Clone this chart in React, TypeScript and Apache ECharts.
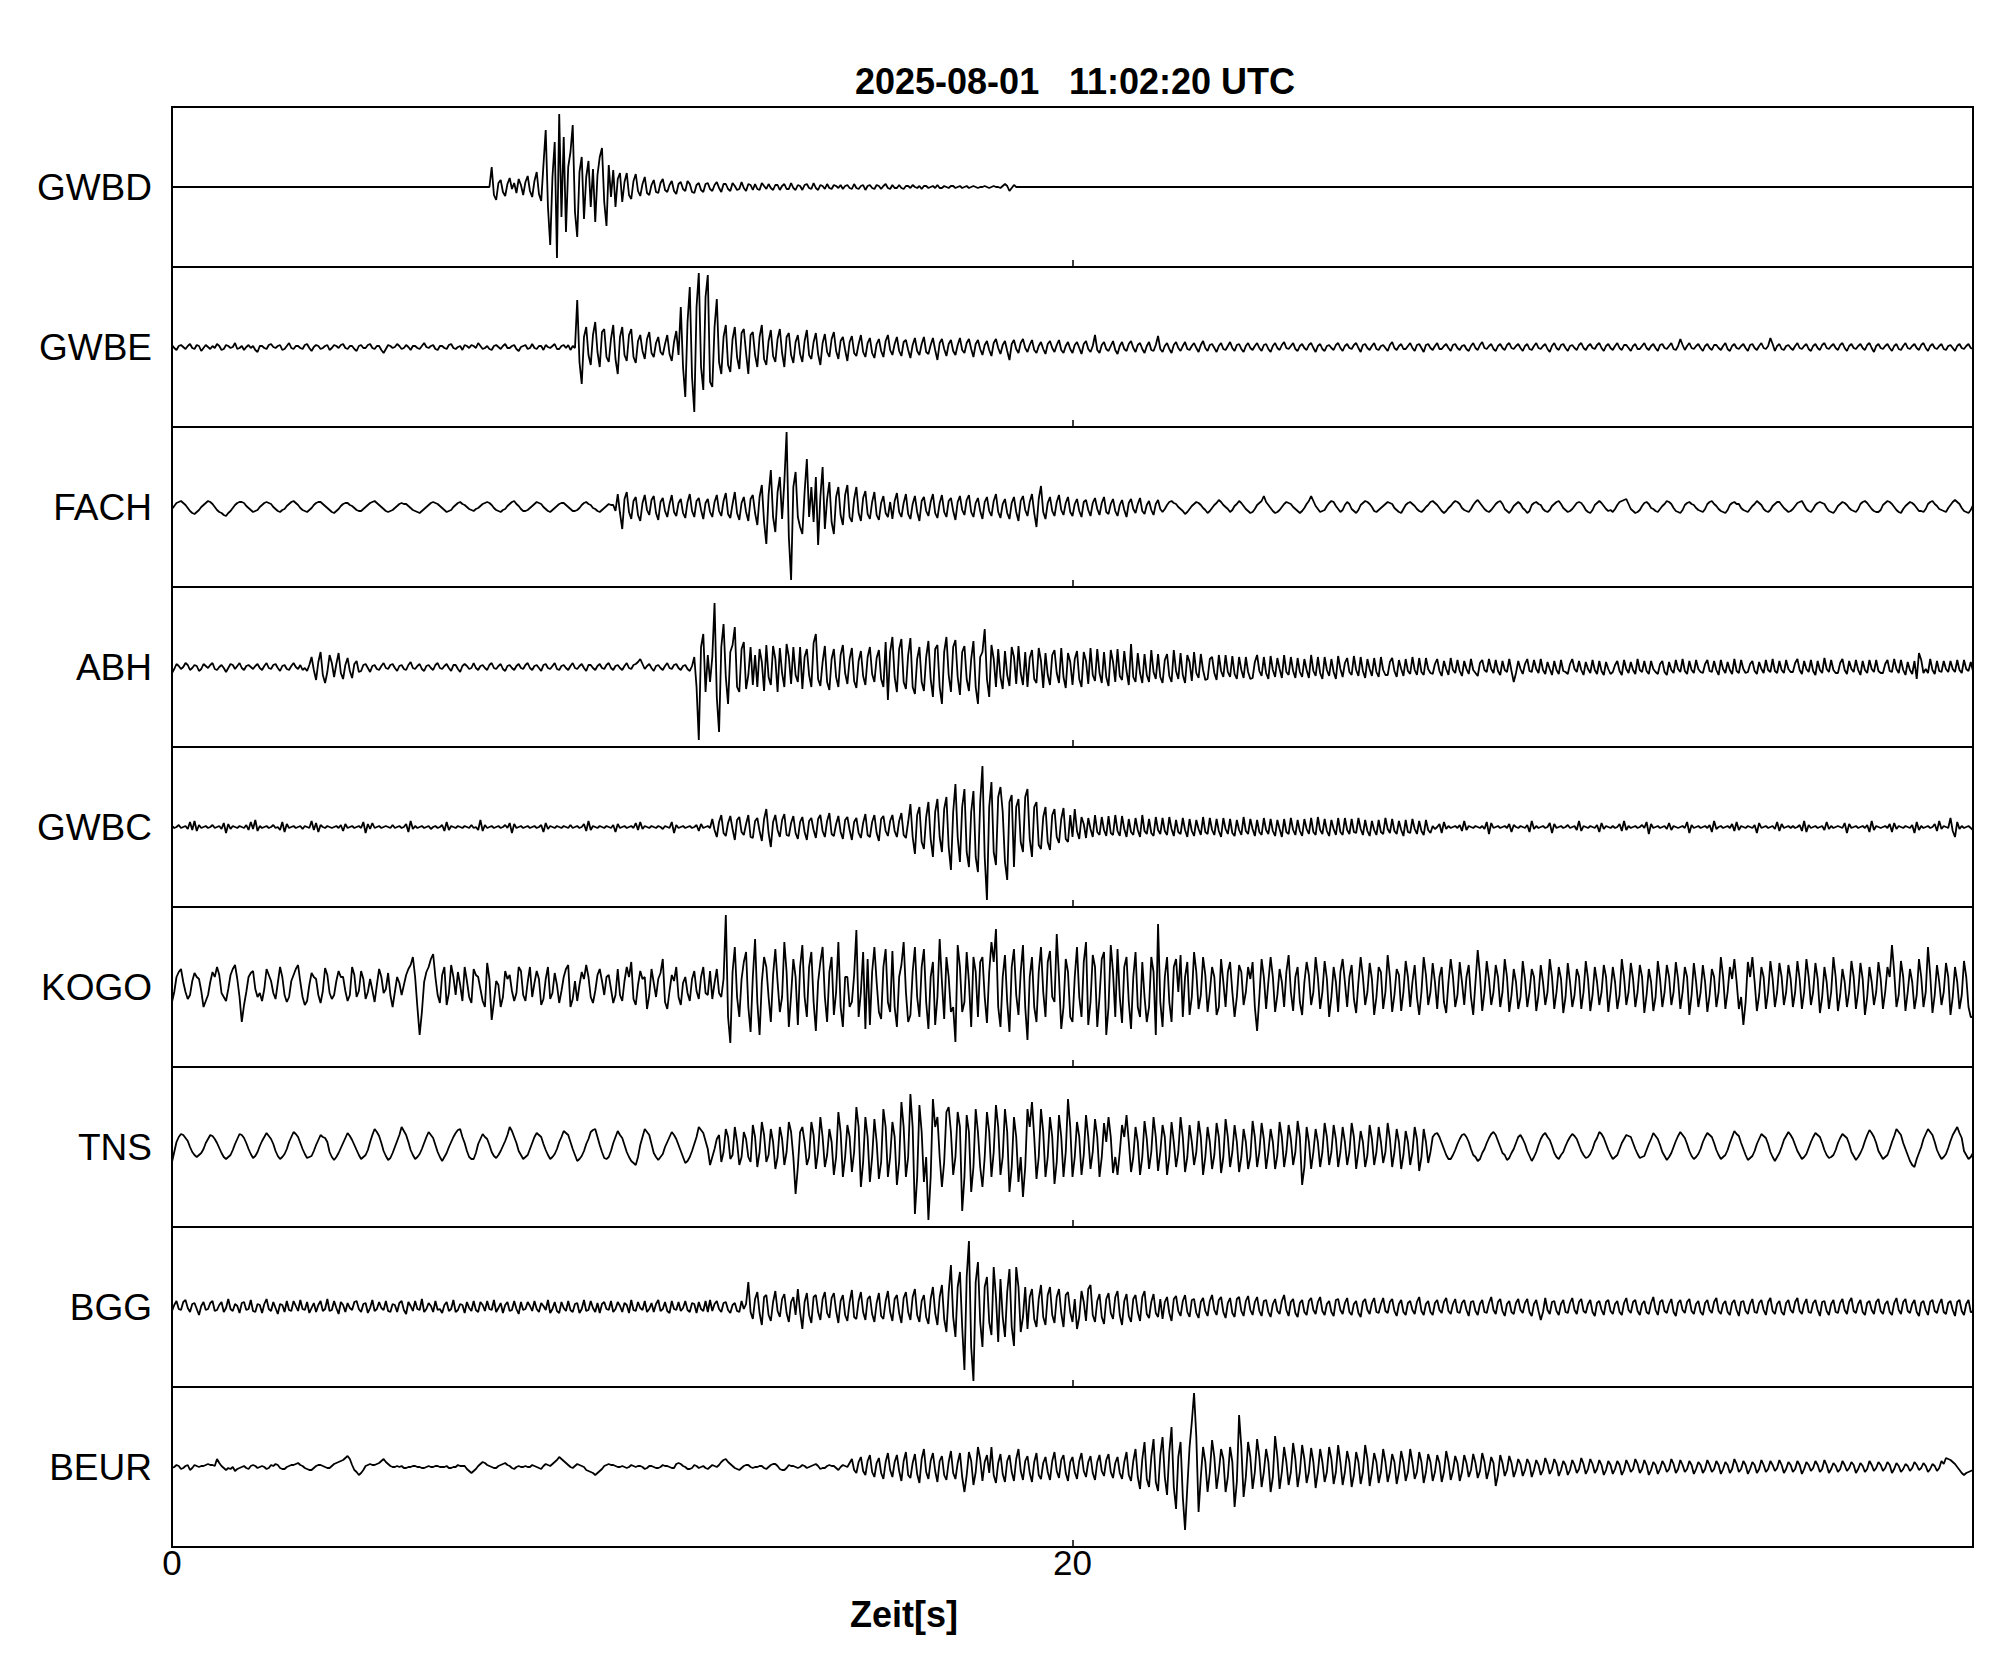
import React, { useEffect, useRef } from "react";
import * as echarts from "echarts";

const TITLE_DATE = "2025-08-01";
const TITLE_TIME = "11:02:20 UTC";
const X_NAME = "Zeit[s]";
const STATIONS = ["GWBD", "GWBE", "FACH", "ABH", "GWBC", "KOGO", "TNS", "BGG", "BEUR"];
const X_MIN = 0;
const X_MAX = 40;
const X_TICK_LABELS = [0, 20];
const SAMPLE_STEP = 0.05; // seconds between samples
const AMP_RANGE = 80; // half-height of one trace panel, in trace units

// one row = 2 s (40 samples)
const GWBD = [
  0,0,0,0,0,0,0,0,0,0, 0,0,0,0,0,0,0,0,0,0, 0,0,0,0,0,0,0,0,0,0, 0,0,0,0,0,0,0,0,0,0,
  0,0,0,0,0,0,0,0,0,0, 0,0,0,0,0,0,0,0,0,0, 0,0,0,0,0,0,0,0,0,0, 0,0,0,0,0,0,0,0,0,0,
  0,0,0,0,0,0,0,0,0,0, 0,0,0,0,0,0,0,0,0,0, 0,0,0,0,0,0,0,0,0,0, 0,0,0,0,0,0,0,0,0,0,
  0,0,0,0,0,0,0,0,0,0, 0,0,0,0,0,0,0,0,0,0, 0,0,20,-8,-13,4,7,-5,-9,3, 9,-2,4,-6,8,2,-8,5,11,-4,
  -10,6,15,-7,-14,22,57,-20,-58,10, 45,-71,73,-30,50,-45,20,35,62,-25, -50,15,30,-32,10,26,-20,18,-35,12, 30,39,-15,-39,22,-10,17,-20,8,14,
  -15,5,14,-8,-12,6,13,-4,-9,3, 10,-6,-8,2,7,-5,-6,4,8,-3, -5,2,6,-4,-7,3,5,-2,-4,6, 3,-5,-6,2,4,-3,-5,3,4,-2,
  -4,2,5,-1,-5,3,3,-2,-4,4, 1,-3,-2,5,-1,-4,3,2,-3,3, -2,-3,4,1,-2,3,-1,-3,2,2, -3,1,3,-2,-2,4,-1,-3,2,1,
  -3,2,3,-1,-2,4,-1,-3,2,1, -2,3,-1,-2,2,1,-1,2,-2,1, 2,-1,-2,3,-1,-2,1,2,-3,1, 2,-1,-2,2,1,-2,1,3,-1,-2,
  2,-1,-1,2,-1,-2,1,1,-1,2, 0,-1,1,-2,1,1,-1,0,1,-1, 2,-1,-1,1,0,-1,1,1,-1,0, 1,-1,0,1,-1,0,1,0,-1,0,
  0,1,0,-1,0,1,0,0,-1,1, 3,1,-4,-1,2,0,0,0,0,0, 0,0,0,0,0,0,0,0,0,0, 0,0,0,0,0,0,0,0,0,0,
  0,0,0,0,0,0,0,0,0,0, 0,0,0,0,0,0,0,0,0,0, 0,0,0,0,0,0,0,0,0,0, 0,0,0,0,0,0,0,0,0,0,
  0,0,0,0,0,0,0,0,0,0, 0,0,0,0,0,0,0,0,0,0, 0,0,0,0,0,0,0,0,0,0, 0,0,0,0,0,0,0,0,0,0,
  0,0,0,0,0,0,0,0,0,0, 0,0,0,0,0,0,0,0,0,0, 0,0,0,0,0,0,0,0,0,0, 0,0,0,0,0,0,0,0,0,0,
  0,0,0,0,0,0,0,0,0,0, 0,0,0,0,0,0,0,0,0,0, 0,0,0,0,0,0,0,0,0,0, 0,0,0,0,0,0,0,0,0,0,
  0,0,0,0,0,0,0,0,0,0, 0,0,0,0,0,0,0,0,0,0, 0,0,0,0,0,0,0,0,0,0, 0,0,0,0,0,0,0,0,0,0,
  0,0,0,0,0,0,0,0,0,0, 0,0,0,0,0,0,0,0,0,0, 0,0,0,0,0,0,0,0,0,0, 0,0,0,0,0,0,0,0,0,0,
  0,0,0,0,0,0,0,0,0,0, 0,0,0,0,0,0,0,0,0,0, 0,0,0,0,0,0,0,0,0,0, 0,0,0,0,0,0,0,0,0,0,
  0,0,0,0,0,0,0,0,0,0, 0,0,0,0,0,0,0,0,0,0, 0,0,0,0,0,0,0,0,0,0, 0,0,0,0,0,0,0,0,0,0,
  0,0,0,0,0,0,0,0,0,0, 0,0,0,0,0,0,0,0,0,0, 0,0,0,0,0,0,0,0,0,0, 0,0,0,0,0,0,0,0,0,0,
  0,0,0,0,0,0,0,0,0,0, 0,0,0,0,0,0,0,0,0,0, 0,0,0,0,0,0,0,0,0,0, 0,0,0,0,0,0,0,0,0,0,
  0,
];

const GWBE = [
  2,-1,-3,1,2,0,-2,1,3,-1, -2,2,1,-4,-1,2,0,-2,1,-1, 3,1,-3,-2,2,1,-1,0,4,-2, -1,1,-3,0,2,-1,1,-3,-5,1,
  1,-1,-2,2,3,0,-1,1,2,-3, -2,1,4,-1,-2,1,1,-1,-2,2, 3,-1,-4,0,2,1,-2,-1,1,2, -3,-1,2,1,-1,2,3,-1,-2,1,
  1,-2,-4,1,2,-1,-1,2,3,-1, -2,1,1,-3,-6,-2,2,1,-1,0, 3,1,-2,-1,2,0,-3,1,1,-1, -2,1,4,0,-1,1,2,-2,-3,1,
  1,-1,-2,2,3,-1,-2,0,1,-3, 2,1,-1,2,1,-1,4,1,-2,-1, 1,-2,-3,1,2,0,-2,1,3,-1, -1,1,2,-2,-4,0,1,2,-2,-1,
  3,-1,-2,1,1,-3,2,0,-1,1, 3,-2,-2,1,2,-1,2,-3,1,-1, 47,-15,-37,10,20,-8,-18,12,25,-5, -20,15,18,-10,-15,8,22,-12,-27,10,
  20,-8,-14,12,18,-10,-16,6,12,-4, -12,8,15,-6,-10,4,10,-5,-8,3, 12,-7,-14,5,16,-8,40,-20,-50,25, 60,-30,-65,40,74,-20,-43,50,72,-35,
  -40,20,48,-15,-27,10,22,-18,-25,8, 20,-10,-22,14,18,-6,-27,12,15,-8, -20,10,22,-12,-18,6,17,-9,-15,8, 18,-6,-20,10,14,-8,-16,5,12,-7,
  -15,6,17,-8,-12,5,14,-7,-18,4, 13,-5,-10,8,15,-4,-12,6,10,-3, -14,5,11,-6,-9,3,12,-5,-10,4, 9,-6,-11,3,8,-4,-10,6,12,-3,
  -8,3,10,-4,-9,5,7,-3,-11,2, 9,-4,-8,3,10,-5,-7,2,9,-3, -13,4,8,-2,-9,3,7,-4,-8,2, 9,-3,-6,4,8,-2,-10,3,7,-2,
  -8,2,6,-3,-9,4,8,-1,-7,2, 6,-4,-13,3,7,-2,-6,4,8,-1, -5,2,7,-3,-6,1,5,-2,-7,3, 6,-1,-5,2,7,-3,-6,1,5,-2,
  -6,2,5,-1,-7,3,6,-2,-5,1, 12,-3,-6,2,5,-2,-4,1,6,-3, -7,1,5,-2,-4,3,6,-1,-5,2, 4,-2,-6,1,5,-3,-4,2,11,-2,
  -5,1,4,-2,-6,2,5,-1,-4,1, 5,-2,-3,1,4,-1,-5,2,6,-1, -4,2,3,-1,-5,1,4,-2,-3,1, 5,-1,-4,2,3,-2,-5,1,4,-1,
  -3,1,4,-1,-4,2,3,-2,-5,1, 4,-1,-3,2,5,-1,-2,1,4,-2, -4,1,3,-1,-3,2,4,-1,-5,1, 3,-2,-4,1,2,-1,-3,2,4,-1,
  -4,1,3,-1,-2,2,4,-1,-5,2, 3,-1,-3,1,4,-2,-3,1,2,-1, -4,2,5,-1,-3,1,3,-2,-2,1, 4,-1,-4,2,3,-1,-5,2,3,-1,
  -3,1,4,-2,-2,1,3,-1,-4,2, 3,-1,-3,1,2,-2,-4,1,4,-1, -3,2,5,-1,-2,1,3,-2,-4,1, 3,-1,-3,2,4,-1,-2,1,3,-1,
  -4,1,3,-2,-3,1,4,-1,-2,1, 3,-2,-5,1,4,-1,-3,2,3,-1, -4,1,2,-1,-3,2,4,-1,-3,1, 3,-1,-2,2,4,-1,-4,1,3,-1,
  -3,1,4,-1,-3,2,2,-1,-4,1, 3,-2,-2,1,4,-1,-3,1,3,-1, -4,2,3,-1,-2,1,4,-2,-3,1, 8,2,-3,1,4,-1,-2,1,3,-1,
  -4,1,3,-1,-3,2,2,-1,-3,1, 4,-2,-4,1,3,-1,-2,1,3,-1, -4,2,3,-1,-3,1,4,-1,-2,1, 9,3,-4,1,3,-2,-3,1,2,-1,
  -3,1,4,-1,-2,1,3,-2,-4,1, 3,-1,-3,2,4,-1,-2,1,3,-1, -3,2,4,-1,-4,1,3,-1,-2,1, 3,-1,-3,2,4,-1,-5,1,3,-1,
  -2,1,3,-1,-4,1,3,-2,-3,1, 4,-1,-2,1,3,-1,-3,2,4,-1, -4,1,3,-1,-2,1,3,-2,-3,1, 2,-1,-4,1,3,-1,-2,1,3,-1,
  -2,
];

const FACH = [
  -2,1,4,5,6,4,2,-1,-4,-6, -7,-5,-3,0,2,4,6,5,3,0, -3,-5,-6,-8,-9,-6,-4,-1,2,4, 5,5,4,1,-1,-3,-5,-4,-3,0,
  2,4,5,4,3,0,-2,-4,-5,-3, -2,1,3,5,6,4,2,-1,-3,-4, -5,-3,-1,2,4,5,5,3,1,-1, -3,-5,-6,-4,-2,1,3,4,4,2,
  1,-1,-3,-4,-4,-2,0,2,4,5, 6,4,2,0,-2,-4,-5,-4,-3,-1, 1,3,4,3,3,1,-1,-3,-4,-5, -6,-4,-2,0,2,4,5,4,3,1,
  -1,-3,-5,-4,-3,0,2,4,5,3, 2,0,-2,-3,-4,-2,-1,1,3,4, 5,4,2,-1,-3,-4,-5,-3,-2,1, 3,5,6,3,1,-2,-4,-4,-3,-1,
  1,3,5,4,3,0,-2,-4,-5,-3, -1,1,3,4,4,2,0,-2,-4,-4, -3,-1,2,4,5,3,2,-1,-2,-4, -5,-3,-1,1,3,2,2,-4,13,-6,
  -22,8,15,-5,-12,6,10,-8,-14,4, 12,-3,-8,7,11,-6,-13,5,9,-4, -10,3,12,-5,-9,4,8,-6,-11,5, 13,-4,-10,6,9,-3,-12,4,8,-5,
  -10,5,12,-4,-9,6,14,-7,-11,3, 15,-6,-13,4,10,-5,-14,8,12,-6, -18,10,22,-15,-37,12,37,-10,-25,15, 30,-12,25,75,-30,-73,20,35,-10,-20,
  -27,15,48,-10,20,-15,30,-38,10,40, -22,8,25,-15,-27,10,20,-8,-18,12, 22,-10,-15,8,20,-6,-14,9,16,-7, -12,5,15,-8,-13,4,11,-6,-10,5,
  -12,6,14,-5,-10,4,13,-7,-12,3, 11,-5,-14,6,10,-4,-9,5,13,-6, -11,4,12,-5,-10,6,9,-4,-13,5, 11,-3,-8,7,12,-5,-10,4,9,-4,
  -12,5,10,-4,-9,6,13,-5,-11,3, 8,-6,-12,4,10,-5,-14,6,11,-3, -9,5,13,-6,-20,8,21,-5,-12,4, 10,-4,-9,5,12,-3,-8,4,10,-5,
  -9,3,8,-4,-10,5,7,-3,-9,4, 9,-2,-8,4,10,-5,-7,3,8,-4, -9,2,7,-3,-10,4,8,-2,-6,3, 9,-4,-7,2,6,-3,-8,3,7,-2,
  -5,-2,2,5,6,4,3,0,-2,-4, -7,-5,-2,1,3,5,4,2,-1,-3, -6,-4,-1,2,4,7,5,2,0,-2, -5,-3,1,3,6,4,1,-2,-4,-6,
  -5,-2,2,4,6,11,5,2,-1,-4, -6,-5,-3,0,3,5,4,3,0,-2, -4,-6,-4,-1,3,6,11,6,1,-2, -5,-4,-3,1,4,6,5,1,-2,-5,
  -3,2,5,3,-2,-4,-6,-3,2,4, 6,5,3,0,-4,-5,-3,-1,1,3, 5,4,3,-1,-3,-5,-6,-2,2,4, 5,3,1,-2,-4,-5,-3,0,2,5,
  6,4,2,-1,-4,-6,-4,-1,1,4, 6,5,3,-1,-3,-4,-5,-2,2,5, 7,4,1,-2,-4,-5,-3,0,3,5, 6,3,-2,-4,-6,-3,1,3,5,3,
  -1,-3,-6,-4,2,4,5,3,2,-2, -4,-5,-3,1,3,5,6,3,-1,-3, -5,-4,-2,1,4,5,4,1,-3,-5, -6,-3,2,4,6,4,1,-2,-4,-3,
  -5,-2,2,5,6,7,8,3,-2,-4, -6,-5,-3,1,4,5,3,-1,-2,-4, -5,-2,1,3,6,5,3,-1,-4,-5, -6,-3,2,4,5,3,2,-1,-3,-4,
  -5,-2,3,5,6,3,1,-2,-4,-5, -6,-3,2,4,5,3,3,-1,-3,-4, -5,-2,1,3,6,4,2,-2,-4,-5, -3,1,3,5,5,2,-1,-3,-5,-4,
  -2,1,4,5,6,2,-2,-4,-5,-2, 2,4,5,4,3,-1,-4,-5,-6,-3, 1,3,5,4,2,-1,-3,-4,-5,-2, 3,5,6,4,1,-2,-4,-5,-5,-3,
  2,4,6,5,3,0,-3,-5,-6,-2, 1,3,5,4,2,-1,-4,-4,-5,-2, 3,5,6,3,1,-2,-3,-4,-5,-1, 2,5,7,5,3,-1,-4,-5,-6,-3,
  2,
];

const ABH = [
  -6,-2,3,1,-2,0,4,2,-3,-1, 2,1,-4,-2,3,1,-1,2,4,-2, -3,0,2,-1,-5,-1,3,2,-2,1, 4,-1,-3,1,2,0,-2,1,3,-1,
  -3,1,4,-1,-2,2,3,-1,-4,1, 2,-2,-3,1,4,0,-2,2,-3,-1, -4,2,10,-3,-13,5,15,-8,-16,-5, 12,4,-10,3,14,-6,-12,2,9,-4,
  -11,3,6,-5,-4,2,3,-1,-5,1, 2,-2,-3,1,4,-1,-2,2,3,-1, -4,1,2,-2,-3,2,5,-1,-2,1, 3,-2,-4,1,2,-1,-3,2,4,-1,
  -2,1,3,-1,-4,2,2,-2,-5,1, 3,1,-2,-1,4,-1,-3,1,2,-1, -3,2,4,-1,-2,1,3,-2,-4,1, 2,-1,-3,1,3,-1,-2,2,4,-1,
  -3,1,2,-1,-4,2,3,-1,-2,1, 4,-2,-3,1,2,-1,-3,1,4,-1, -2,1,3,-1,-4,2,2,-1,-3,1, 3,-1,-2,2,4,-1,-3,1,2,-1,
  -3,1,4,-1,-2,2,3,5,8,3, -2,1,3,-1,-4,1,2,-1,-3,1, 4,-1,-2,2,3,-1,-3,1,2,-2, -4,1,10,-20,-73,20,33,-25,12,-15,
  10,64,-30,-65,20,43,-10,-37,15,22, 40,-20,-25,18,25,-22,-8,20,-18,12, -20,18,5,-24,22,-10,-18,21,8,-25, 19,-6,-20,23,10,-17,20,-8,-15,20,
  -22,10,18,-8,-20,24,33,-12,-19,5, 21,-15,-23,8,18,-10,-20,12,22,-6, -17,8,19,-14,-21,6,16,-9,-18,10, 20,-7,-15,9,17,-12,-20,25,-33,15,
  30,-10,-25,18,28,-15,-22,12,29,-20, -27,8,20,-15,-24,10,26,-12,-30,18, 22,-20,-37,15,30,-8,-25,20,27,-10, -28,15,21,-12,-24,8,26,-20,-37,10,
  15,38,-12,-30,22,8,-20,18,-10,-22, 16,-8,-19,20,10,-17,21,-6,-18,15, -20,9,17,-12,-16,19,6,-21,14,-8, -18,12,17,-6,-16,19,-10,-21,14,5,
  -18,8,16,-12,-20,15,6,-17,19,-8, -14,18,-6,-16,15,-10,-19,17,5,-15, 18,-9,-13,16,-4,-18,23,-10,-15,14, -6,-16,13,-8,-15,17,-5,-12,13,-10,
  -16,7,13,-9,-15,17,-4,-12,14,-8, -16,12,5,-14,15,-6,-11,13,-3,-13, -12,8,10,-6,-13,12,-4,-10,12,-5, -10,11,-7,-12,10,-3,-11,10,-5,-12,
  -11,5,12,-4,-9,10,-6,-12,11,-3, -10,9,-2,-11,12,-5,-8,10,-4,-11, 9,-5,-10,8,-3,-11,12,-4,-9,10, -6,-12,10,-3,-9,8,-5,-12,11,-2,
  -10,4,9,-5,-8,11,-3,-9,10,-4, -11,8,-2,-9,9,-5,-10,10,-3,-8, -8,5,9,-4,-10,7,-2,-9,8,-4, -7,10,-3,-8,9,-5,-8,9,-2,-6,
  -7,3,8,-4,-9,6,-2,-8,9,-3, -6,7,-4,-9,6,-2,-7,8,-3,-6, -9,4,7,-3,-5,8,-2,-6,7,-4, -8,6,-3,-5,8,-4,-15,-6,6,-2,
  -7,3,8,-4,-5,7,-2,-6,8,-3, -7,5,-2,-8,6,-3,-7,7,-4,-5, -7,3,8,-2,-5,6,-3,-8,5,-2, -6,7,-3,-7,6,-4,-8,5,-2,-7,
  -5,2,6,-4,-8,7,-2,-6,5,-3, -7,8,-3,-5,6,-4,-7,6,-2,-5, -7,3,6,-5,-8,5,-3,-6,7,-2, -5,8,-4,-7,6,-3,-6,7,-2,-5,
  -6,3,7,-4,-5,6,-3,-8,7,-2, -6,5,-3,-7,8,-4,-6,7,-2,-6, -5,3,6,-4,-7,5,-2,-6,7,-3, -5,8,-4,-6,6,-3,-6,7,-2,-5,
  -5,4,8,-3,-7,6,-2,-5,7,-4, -8,6,-3,-6,9,-2,-5,7,-3,-6, -6,4,8,-3,-7,6,-2,-5,7,-3, -8,6,-3,-6,7,-2,-5,7,-4,-6,
  -6,3,7,-4,-5,8,-2,-6,7,-3, -8,5,-3,-7,6,-12,14,7,-6,-2, -6,8,-3,-7,6,-4,-5,6,-2,-5, 6,-2,-5,7,-3,-6,7,-2,-4,5,
  -4,
];

const GWBC = [
  1,-1,0,2,-1,0,1,-2,5,-3, 6,-4,2,-1,0,1,-1,0,2,-1, 0,1,-2,4,-6,3,-2,1,0,-1, 1,0,-1,2,-3,5,-2,7,-4,1,
  -1,0,1,-1,0,2,-1,0,-3,5, -5,3,-1,0,1,-1,0,1,-2,1, 0,-1,6,-3,4,-5,2,0,-1,1, 0,-1,0,1,-1,2,-4,3,-1,0,
  1,-1,0,1,-1,5,-6,3,-2,4, -1,0,1,-1,0,1,0,-1,2,-1, 0,1,-1,0,3,-5,6,-2,1,-1, 0,1,-1,0,1,-2,0,1,-1,0,
  2,-4,5,-3,1,0,-1,1,0,-1, 1,0,-1,2,-1,0,-3,7,-4,2, -1,0,1,-1,0,1,-1,0,2,-1, 4,-6,3,-1,0,1,-1,0,1,-1,
  0,1,-1,0,2,-5,4,-2,1,0, -1,1,0,-1,1,0,-1,2,-1,0, 1,-1,0,3,-4,6,-3,1,0,-1, 1,0,-1,1,0,-1,2,-5,3,-1,
  0,1,-1,0,1,-1,4,-3,5,-2, 1,0,-1,1,0,-1,1,0,-2,1, 0,-1,5,-6,2,-1,0,1,-1,0, 1,-1,0,2,-4,3,-1,0,1,-1,
  8,-3,-10,5,12,-6,-9,4,11,-2, -13,7,10,-5,-8,3,12,-10,-11,6, 9,-4,-14,8,18,-6,-20,5,12,-3, -10,7,13,-8,-9,4,11,-6,-12,5,
  10,-5,-13,6,9,-3,-11,8,12,-4, -10,6,14,-7,-9,3,11,-5,-12,7, 10,-3,-13,5,9,-6,-11,4,13,-8, -10,5,12,-6,-14,8,11,-4,-9,6,
  12,-4,-10,6,14,-8,-11,5,23,-10, -27,12,20,-15,-22,10,25,-12,-30,15, 28,-10,-25,18,30,-20,-43,15,43,-10, -35,20,38,-25,-40,15,36,-30,-45,25,
  61,-30,-73,20,45,-25,-38,30,40,15, -35,-53,25,32,-40,20,28,-15,-25,30, 38,-12,-30,20,25,-18,-22,10,20,-15, -23,12,18,-10,-16,8,19,-12,-15,12,
  -10,18,-4,-12,10,3,-11,9,-2,-10, 12,-5,-8,10,-3,-9,11,-6,-8,12, -4,-9,11,-2,-10,8,-5,-8,9,-3, -10,12,-4,-7,8,-6,-9,10,-3,-7,
  9,-4,-8,10,-2,-9,7,-5,-7,9, -3,-10,8,-4,-9,7,-2,-8,10,-5, -7,9,-3,-8,8,-4,-10,9,-2,-7, 8,-6,-9,7,-3,-8,10,-4,-7,8,
  -2,-9,7,-5,-8,9,-3,-7,8,-4, -9,7,-2,-10,8,-5,-7,9,-3,-8, 7,-4,-9,8,-2,-7,9,-5,-8,10, -3,-7,8,-4,-9,7,-2,-8,9,-5,
  -8,9,-3,-7,8,-5,-6,9,-2,-8, 7,-4,-9,6,-3,-8,7,-5,-7,9, -2,-6,8,-4,-7,6,-3,-9,7,-5, -6,8,-2,-7,6,-4,-8,7,-3,-6,
  1,-2,0,3,-6,5,-2,1,-1,0, 1,-1,2,-4,6,-3,1,0,-1,1, 0,-1,1,-2,5,-7,4,-1,0,1, -1,0,1,-1,3,-5,2,0,-1,1,
  0,-1,2,-5,6,-2,1,-1,0,1, -1,0,4,-6,3,-1,0,1,-1,0, 2,-1,0,1,-3,6,-4,1,0,-1, 1,0,-1,2,-5,4,-2,1,0,-1,
  1,-1,0,3,-4,6,-3,1,-1,0, 1,-1,0,2,-1,5,-7,3,-1,0, 1,-1,0,1,-2,4,-3,1,0,-1, 0,1,-1,5,-6,2,-1,0,1,-1,
  0,1,-1,2,-5,6,-2,0,1,-1, 0,1,-1,3,-4,5,-3,1,0,-1, 1,0,-1,2,-6,4,-1,0,1,-1, 0,1,-2,5,-4,3,-1,0,1,-1,
  1,-1,0,2,-4,6,-5,2,-1,0, 1,-1,0,1,-3,5,-2,1,-1,0, 1,0,-1,4,-6,3,-1,0,1,-1, 0,1,-1,2,-5,6,-3,1,0,-1,
  0,1,-1,3,-5,4,-2,1,0,-1, 1,0,-1,2,-6,5,-3,1,-1,0, 1,-1,0,3,-4,6,-2,1,0,-1, 9,-4,-10,5,-2,1,-1,0,1,-1,
  -3,
];

const KOGO = [
  -15,-5,10,15,18,5,-5,-12,-8,6, 14,10,8,-4,-20,-14,-8,5,15,10, 20,12,-6,-10,-14,-2,12,18,22,8, -10,-35,-18,-5,10,14,16,-2,-10,-6,
  -14,-2,18,12,6,-6,-12,4,20,10, -8,-15,-10,6,12,18,22,5,-10,-18, -14,2,14,10,8,-8,-16,-4,19,12, -6,-12,-8,6,16,10,10,-4,-14,-8,
  20,12,-10,-4,16,8,-12,-5,8,-3, -15,2,18,10,-6,-2,14,-8,-20,-5, 10,4,-8,2,12,18,22,30,10,-20, -48,-25,5,15,20,28,33,10,-8,-16,
  12,20,-18,-6,22,10,-8,15,2,-14, 20,6,-10,-16,18,12,10,-2,-14,-20, 24,8,-33,-15,6,2,-20,-10,16,8, 12,-4,-14,-6,20,16,-8,-14,5,20,
  -10,4,16,8,-18,-12,8,20,-12,-6, 14,2,-16,-4,10,18,22,-20,-12,6, -14,2,15,8,22,10,-10,-16,-4,12, 18,6,-8,10,12,-2,-16,-8,18,-8,
  -14,6,20,10,25,-12,-18,2,16,8, 10,-22,-8,18,4,-10,8,14,28,-15, -22,-4,12,6,20,-10,-18,4,10,-6, -14,8,16,-4,-12,10,20,-6,-8,16,
  -12,4,18,-6,-10,8,72,-30,-56,15, 40,-10,-30,8,25,35,-20,-45,10,48, -15,-48,5,30,20,-10,-35,12,38,5, -25,-10,45,15,-40,-8,28,10,-38,20,
  42,-10,-30,20,35,-15,-44,5,25,40, -10,-35,15,30,-28,-5,45,-20,-40,10, 10,-20,-15,12,57,-30,-5,35,-42,28, -38,15,40,5,-25,-32,20,38,-15,-25,
  36,-20,-40,10,22,45,-5,-35,-28,15, 40,-10,-30,20,38,-15,-42,10,25,-38, -10,48,5,-32,30,10,-25,-20,-55,42, 20,-25,-15,35,5,-40,30,15,-30,25,
  30,-10,-36,15,45,25,58,-20,-40,10, 32,-15,-45,20,38,-8,-28,15,42,-20, -53,10,30,-20,-35,15,40,-5,-30,25, 36,-10,-15,53,10,-42,-20,28,15,-30,
  -35,10,40,-10,-30,25,45,-38,-15,32, 20,-40,-10,28,35,-48,-20,42,15,-30, 38,-10,-36,20,30,-15,-42,10,35,-20, -30,25,-10,-35,-20,30,15,-48,63,-15,
  -40,10,30,-15,-35,20,28,-5,32,-30, 10,25,-28,-10,35,15,-22,-8,30,12, -25,-5,20,10,-28,-20,28,5,-20,15, 25,-5,-30,-10,22,15,-18,-5,20,8,
  25,-20,-44,-10,28,10,-22,5,30,10, -25,-8,18,5,-20,15,32,-5,-24,10, 20,-15,-28,5,25,12,-18,-5,30,10, -22,-5,26,8,-30,-10,20,5,-25,15,
  28,5,-20,10,22,-12,-26,5,30,10, -18,-5,24,8,-28,-10,20,15,-22,-5, 32,10,-25,-8,18,12,-24,-5,26,10, -20,5,22,-10,-28,-5,30,12,-18,-5,
  24,5,-22,10,20,-15,-26,5,28,10, -20,-8,25,5,-18,10,22,-10,-28,5, 37,12,-24,-5,26,8,-18,-5,22,10, -20,-5,28,10,-25,-8,18,5,-22,-10,
  26,8,-20,-5,18,10,-24,-8,22,5, -18,-5,28,10,-22,-5,20,8,-26,-10, 24,5,-20,-8,18,10,-22,-5,26,8, -24,-8,20,5,-18,-5,22,10,-25,-5,
  20,5,-22,-8,28,10,-18,-5,24,8, -20,-5,22,10,-26,-8,18,5,-24,-10, 26,8,-20,-5,22,10,-18,-5,25,8, -22,-5,20,10,-28,-8,24,5,-20,-5,
  22,5,-25,-8,18,10,-20,-5,30,10, -22,-5,20,8,28,5,-22,-10,-38,-15, 25,10,30,5,-24,-8,20,10,-22,-5, 26,8,-20,-5,24,10,-18,-5,22,8,
  -20,-5,26,8,-22,-5,28,10,-18,-5, 24,8,-26,-10,20,5,-22,-5,30,10, -24,-8,18,5,-20,-5,26,10,-22,-5, 24,8,-28,-10,20,5,-18,-5,25,8,
  -22,-5,20,10,42,15,-20,-8,26,10, -24,-5,18,5,-22,-8,28,10,-20,-5, 40,12,-26,-8,22,5,-18,-5,24,10, -28,-10,20,5,-22,-8,26,10,-20,-30,
  -30,
];

const TNS = [
  -15,-5,5,10,13,12,9,6,0,-5, -8,-10,-8,-6,-2,4,8,12,11,8, 4,-1,-6,-10,-12,-10,-8,-3,3,8, 13,12,9,4,-2,-7,-11,-9,-5,1,
  6,10,14,11,8,3,-4,-9,-12,-10, -7,-2,5,10,15,13,10,4,-2,-7, -11,-10,-9,-4,2,7,12,10,9,5, -5,-10,-13,-10,-6,-1,4,9,14,11,
  7,2,-3,-8,-12,-10,-8,-3,5,12, 18,15,11,4,-4,-9,-13,-11,-6,0, 6,12,20,16,12,5,-3,-8,-12,-10, -7,-2,4,10,15,12,9,2,-5,-10,
  -14,-10,-6,0,5,10,14,17,18,10, 4,-4,-10,-12,-12,-6,3,8,13,10, 8,2,-5,-9,-11,-8,-4,1,6,12, 20,16,10,4,-4,-8,-12,-10,-8,-2,
  4,10,14,12,10,3,-3,-8,-12,-10, -7,-2,5,10,16,14,12,5,-2,-8, -14,-12,-9,-4,3,8,15,17,18,10, 2,-5,-11,-12,-10,-4,4,10,16,12,
  9,2,-5,-10,-14,-16,-18,-10,2,10, 18,15,12,3,-6,-10,-13,-10,-7,0, 5,10,15,12,8,2,-4,-10,-16,-14, -10,-4,3,10,20,17,14,6,-2,-18,
  -10,-2,8,12,-15,-5,18,10,-12,-8, 20,5,-18,-10,15,8,-10,-15,22,10, -20,-5,25,12,-15,-8,18,5,-22,-10, 20,8,-18,-5,25,15,-10,-47,-20,15,
  20,5,-18,-10,25,12,-22,-5,30,10, -20,-8,18,5,-28,-10,35,15,-30,-10, 22,10,-25,-5,40,20,-40,-15,30,10, -35,-10,28,5,-32,-15,38,20,-30,-10,
  25,10,-38,-15,45,20,-30,-10,53,20, -67,-30,42,15,-35,-10,-73,-30,48,20, 30,-10,-40,-15,35,40,15,-28,-10,35, 20,-64,-30,32,15,-45,-20,38,15,-20,
  -40,-10,35,15,-30,-5,42,20,-28,-10, 38,15,-45,-20,30,10,-35,-10,-50,-20, 38,20,45,10,-32,-10,38,15,-30,-10, 30,10,-37,-15,32,10,-30,-5,48,20,
  -30,-10,25,10,-28,-8,32,10,-22,-5, 28,10,-30,-10,24,5,30,10,-26,-10, -28,-5,22,10,32,5,-25,-10,20,5, -28,-10,26,8,-22,-5,30,10,-24,-5,
  22,10,-28,-10,25,5,-20,-5,30,10, -25,-10,22,5,-18,-5,26,10,-28,-10, 20,5,-22,-8,24,10,-26,-10,28,10, -20,-5,22,5,-25,-10,18,5,-22,-10,
  26,10,-20,-5,24,8,-22,-5,18,5, -22,-8,25,10,-20,-5,22,8,-18,-5, 26,10,-38,-20,20,5,-22,-5,18,5, -20,-5,24,10,-18,-5,22,8,-20,-5,
  20,5,-18,-5,24,10,-22,-5,16,5, -20,-8,22,8,-18,-5,20,5,-16,-5, 24,8,-20,-5,18,5,-22,-8,16,5, -18,-5,20,8,-24,-10,18,5,-16,-5,
  10,13,14,10,4,-2,-8,-12,-12,-8, -3,3,8,12,13,10,5,-2,-8,-10, -14,-12,-6,-2,4,9,13,15,12,6, 0,-6,-8,-13,-11,-6,-2,4,10,12,
  8,3,-4,-9,-14,-10,-5,2,8,12, 14,10,7,1,-6,-10,-12,-8,-5,1, 6,10,13,11,8,2,-4,-8,-11,-10, -7,-2,5,9,15,13,9,3,-3,-8,
  -12,-10,-8,-2,4,8,12,11,10,4, -2,-7,-11,-10,-9,-3,3,8,14,11, 8,2,-5,-9,-13,-10,-6,0,6,11, 15,12,9,3,-4,-9,-12,-10,-7,-2,
  5,10,14,12,10,4,-3,-8,-12,-10, -8,-3,4,10,16,13,11,4,-2,-8, -13,-11,-9,-4,3,8,13,11,9,3, -5,-10,-14,-10,-6,0,7,11,15,12,
  8,2,-4,-8,-12,-10,-7,-1,5,10, 14,12,10,4,-3,-8,-11,-10,-8,-3, 4,9,13,11,9,3,-5,-9,-13,-10, -6,-1,6,12,17,14,10,4,-4,-8,
  -12,-10,-8,-2,5,11,18,15,12,4, -2,-8,-14,-18,-20,-12,-6,0,8,13, 18,15,12,5,-3,-8,-12,-10,-7,-1, 6,12,16,20,14,9,-4,-8,-12,-10,
  -6,
];

const BGG = [
  -4,2,6,-2,-3,5,7,-1,-5,3, 4,-2,-8,1,5,-3,-2,4,6,-4, -3,2,5,-5,-1,8,-2,-4,3,1, -6,4,5,-3,-2,7,-4,-5,3,2,
  -6,3,8,-2,-4,5,-1,-7,3,2, -5,6,-3,-4,6,1,-4,7,-2,-3, 5,-6,-1,4,-5,2,6,-4,-2,8, -4,-3,6,-1,-7,5,2,-5,4,-1,
  -3,5,6,-2,-5,3,4,-6,-1,7, -4,-2,5,-1,-3,6,-4,-5,3,2, -5,4,6,-3,-7,5,1,-4,6,-2, -3,8,-5,-2,4,1,-5,6,-3,-2,
  -6,2,5,-4,-2,7,-5,-3,3,2, -6,5,-1,-4,6,-3,-5,5,2,-4, 6,-2,-3,7,-5,-1,4,-6,2,5, -4,-3,6,-2,-7,5,-3,-2,5,1,
  -4,6,-2,-5,4,1,-3,7,-6,-2, 5,-4,-6,5,-1,-4,6,-3,-5,3, 4,-6,-2,7,-4,-3,6,-1,-5,4, -6,3,5,-2,-3,6,-5,-2,5,1,
  -5,4,2,-6,7,-3,-4,5,-1,-3, 6,-5,-2,4,-5,3,7,-4,-2,5, -4,-6,6,-2,-3,5,-4,-1,6,-3, -5,4,3,-6,5,-2,-4,6,-5,7,
  -4,3,6,-2,-5,4,5,-3,-6,2, 4,-4,-5,6,-2,3,25,-5,-12,8, 15,-6,-18,10,12,-8,-14,5,16,-4, -10,8,13,-6,-15,5,10,-8,18,-5,
  -22,5,14,-8,-16,10,12,-5,-13,8, 15,-6,-11,9,14,-4,-16,6,12,-8, -14,5,17,-10,-12,6,15,-5,-13,8, 11,-7,-15,4,14,-9,-12,6,16,-5,
  -14,8,12,-6,-16,9,15,-5,-13,10, 18,-8,-15,6,12,-10,-17,8,20,-6, -18,10,22,-12,-25,15,42,-10,-30,20, 35,-20,-63,30,66,-40,-74,25,45,-15,
  -40,20,30,-15,-28,40,10,-35,28,-10, -30,15,38,-20,-39,40,20,-25,-10,20, -22,10,18,-12,-20,8,22,-10,-18,12, 20,-8,-16,10,18,-6,-20,12,15,-5,
  -15,8,-22,-10,16,5,-14,18,22,-8, -15,6,13,-10,-17,8,14,-6,-12,10, 16,-8,-18,6,13,-9,-15,8,12,-5, -14,10,16,-7,-11,5,13,-6,-10,8,
  -12,5,10,-6,-14,8,11,-4,-9,6, 12,-5,-10,7,8,-6,-11,5,9,-4, -9,6,12,-3,-8,7,10,-5,-11,4, 9,-6,-10,8,10,-4,-9,6,11,-3,
  -8,5,10,-4,-9,6,7,-5,-10,3, 8,-4,-7,6,12,-3,-9,5,8,-6, -10,4,7,-5,-8,6,9,-3,-7,5, 10,-4,-8,3,6,-5,-9,7,8,-3,
  -7,4,9,-5,-8,3,6,-6,-10,5, 8,-3,-7,4,9,-5,-6,3,9,-4, -6,5,8,-4,-9,3,7,-5,-8,4, 6,-3,-7,5,10,-4,-8,3,6,-5,
  -8,4,7,-3,-6,5,9,-4,-7,3, 8,-5,-6,4,7,-3,-9,5,6,-4, -8,3,7,-5,-6,4,10,-3,-7,5, 8,-4,-9,3,6,-5,-7,4,8,-3,
  -6,4,8,-5,-9,3,7,-4,-13,-5, 9,-3,-7,5,6,-4,-8,3,7,-5, -6,4,9,-3,-7,5,8,-4,-6,3, 7,-5,-9,4,6,-3,-8,5,7,-4,
  -7,3,6,-5,-8,4,9,-3,-6,5, 7,-4,-8,3,6,-5,-7,4,10,-3, -8,5,7,-4,-6,3,8,-5,-9,4, 7,-3,-6,5,8,-4,-7,3,6,-5,
  -8,4,7,-3,-6,5,9,-4,-7,3, 6,-5,-8,4,7,-3,-9,5,6,-4, -7,3,8,-5,-6,4,7,-3,-8,5, 9,-4,-7,3,6,-5,-8,4,7,-3,
  -6,5,9,-4,-7,3,8,-5,-6,4, 7,-3,-9,5,6,-4,-8,3,7,-5, -6,4,8,-3,-7,5,9,-4,-6,3, 7,-5,-8,4,6,-3,-7,5,8,-4,
  -7,3,6,-5,-8,4,9,-3,-7,5, 8,-4,-6,3,7,-5,-9,4,6,-3, -8,5,7,-4,-6,3,8,-5,-7,4, 6,-3,-9,5,7,-4,-8,3,7,-5,
  -5,
];

const BEUR = [
  -1,0,2,1,-2,-1,1,2,-3,-1, 2,1,0,1,1,2,3,2,2,1, 8,4,1,-1,-3,-1,-2,0,-4,-2, -1,0,1,-1,-2,1,2,1,-1,0,
  1,0,-2,-1,2,1,3,2,-1,-2, -2,0,1,2,2,3,4,2,1,-1, -2,-3,-3,-1,1,2,2,1,0,-1, -1,1,3,4,5,6,7,9,11,8,
  2,-3,-5,-8,-6,-3,1,2,3,2, 2,3,4,6,8,5,3,1,0,0, 1,0,1,-1,-1,0,0,1,1,0, 0,-1,-1,0,1,0,0,1,1,0,
  0,0,1,-1,-1,0,0,2,1,1, 1,-2,-4,-6,-4,-2,1,3,5,4, 2,1,0,-1,-1,1,2,3,4,2, 1,-1,-2,0,1,0,0,1,0,0,
  2,1,0,-1,-2,1,3,2,1,3, 5,7,10,8,6,4,2,0,-1,1, 3,2,1,0,-3,-4,-5,-6,-8,-6, -4,-2,1,2,3,2,2,1,0,0,
  1,0,-1,0,2,1,0,1,1,0, -2,-1,1,1,0,-1,-1,0,2,1, 1,0,-1,-1,3,4,3,1,0,-2, -2,-1,2,1,-1,0,1,-1,-2,0,
  2,1,0,2,5,7,8,5,3,1, -1,-2,-3,-1,1,2,2,0,-1,0, 0,1,1,-1,-2,0,2,3,3,1, -2,-3,-3,-1,2,1,1,0,-1,0,
  2,1,-1,0,1,2,3,1,-2,-1, -1,1,2,1,1,-1,-3,0,2,1, 0,4,8,-3,-6,5,10,-4,-8,6, 12,-5,-10,4,9,-6,-12,5,14,-3,
  -10,5,12,-4,-14,6,15,-8,-11,4, 13,-7,-16,8,18,-5,-12,6,14,-4, -15,6,11,-8,-13,5,16,-6,-12,4, 14,-10,-25,-8,15,6,-18,-5,20,8,
  -14,5,12,-6,20,-8,-16,4,13,-7, -15,6,12,-5,-14,8,18,-4,-13,6, 11,-6,-15,5,14,-8,-12,4,10,-5, -13,6,15,-4,-11,7,12,-6,-14,5,
  10,-5,-12,6,14,-4,-10,5,11,-6, -13,5,12,-4,-9,7,13,-5,-11,4, 10,-6,-12,5,15,-8,-14,6,18,-10, -22,8,25,-12,-20,10,28,-15,-24,12,
  30,-10,-28,15,40,-20,-42,10,25,-30, -63,-20,20,45,74,30,-45,-10,20,5, -25,-5,27,10,-22,-5,18,8,-25,-10, 20,5,-40,-15,52,20,-30,-10,25,10,
  -22,-5,28,10,-20,-5,18,5,-25,-10, 31,10,-22,-5,20,5,-18,-5,24,8, -20,-5,22,8,-16,-5,19,5,-21,-5, 18,5,-15,-5,20,8,-17,-5,22,5,
  -18,-5,16,5,-20,-8,15,5,-17,-5, 22,8,-19,-5,14,5,-16,-5,18,5, -15,-5,13,5,-17,-5,16,5,-14,-5, 18,5,-12,-5,15,5,-16,-5,13,5,
  -14,-5,12,4,-15,-5,16,5,-13,-4, 11,4,-14,-5,12,4,-10,-3,13,4, -11,-4,14,5,-12,-3,10,4,-19,-8, 12,4,-9,-3,11,4,-10,-3,8,3,
  -9,-3,8,3,-10,-3,7,2,-8,-3, 9,3,-7,-2,8,3,-9,-3,6,2, -8,-3,7,2,-6,-2,9,3,-7,-2, 8,3,-6,-2,7,2,-8,-3,6,2,
  -7,-2,6,2,-8,-3,7,2,-5,-2, 8,3,-6,-2,7,2,-8,-3,5,2, -7,-2,6,2,-5,-2,8,3,-6,-2, 7,2,-5,-2,6,2,-7,-2,5,2,
  -6,-2,7,2,-5,-2,6,2,-7,-2, 5,2,-6,-2,8,3,-5,-2,6,2, -7,-2,5,2,-6,-2,7,2,-5,-2, 6,2,-4,-1,7,2,-6,-2,5,2,
  -5,-2,6,2,-7,-2,5,2,-4,-1, 6,2,-5,-2,7,2,-6,-2,4,1, -5,-2,6,2,-4,-1,5,2,-6,-2, 4,1,-5,-2,6,2,-4,-1,5,2,
  -4,-1,5,2,-6,-2,4,1,-5,-2, 3,1,-4,-1,5,2,-3,-1,4,1, -5,-2,3,1,-4,-1,6,3,9,8, 7,5,3,0,-3,-6,-8,-6,-5,-4,
  -3,
];

const TRACES = [GWBD, GWBE, FACH, ABH, GWBC, KOGO, TNS, BGG, BEUR];

const FONT = "'Liberation Sans', Arial, Helvetica, sans-serif";

export default function App() {
  const ref = useRef<HTMLDivElement>(null);

  useEffect(() => {
    if (!ref.current) return;
    const chart = echarts.init(ref.current, null, { renderer: "svg" });

    const left = 172;
    const right = 32;
    const top = 107;
    const panelH = 160;
    const n = STATIONS.length;

    const grids = STATIONS.map((_, i) => ({
      left,
      right,
      top: top + i * panelH,
      height: panelH,
      show: true,
      borderColor: "#000",
      borderWidth: 2,
      backgroundColor: "transparent",
      containLabel: false,
    }));

    const xAxes = STATIONS.map((_, i) => ({
      type: "value",
      gridIndex: i,
      min: X_MIN,
      max: X_MAX,
      interval: 20,
      position: "bottom",
      axisLine: { show: false, onZero: false },
      axisTick: { show: true, inside: true, length: 7, lineStyle: { color: "#000", width: 1.5 } },
      splitLine: { show: false },
      axisLabel: {
        show: i === n - 1,
        color: "#000",
        fontSize: 35,
        fontFamily: FONT,
        margin: -2,
        formatter: (v: number) => (X_TICK_LABELS.includes(v) ? String(v) : ""),
      },
    }));

    const yAxes = STATIONS.map((_, i) => ({
      type: "value",
      gridIndex: i,
      min: -AMP_RANGE,
      max: AMP_RANGE,
      show: false,
    }));

    const series = TRACES.map((vals, i) => ({
      type: "line",
      name: STATIONS[i],
      xAxisIndex: i,
      yAxisIndex: i,
      data: vals.map((v, k) => [Math.round(k * SAMPLE_STEP * 1000) / 1000, v]),
      showSymbol: false,
      symbol: "none",
      silent: true,
      clip: true,
      lineStyle: { color: "#000", width: 1.8 },
    }));

    const labels = STATIONS.map((s, i) => ({
      type: "text",
      x: 152,
      y: top + i * panelH + panelH / 2,
      style: {
        text: s,
        fontSize: 37,
        fontFamily: FONT,
        fill: "#000",
        align: "right",
        verticalAlign: "middle",
      },
    }));

    const titleStyle = {
      fontSize: 36,
      fontWeight: "bold",
      fontFamily: FONT,
      fill: "#000",
      align: "left",
      verticalAlign: "middle",
    };

    chart.setOption({
      animation: false,
      backgroundColor: "#fff",
      grid: grids,
      xAxis: xAxes,
      yAxis: yAxes,
      series,
      graphic: [
        ...labels,
        { type: "text", x: 855, y: 81, style: { ...titleStyle, text: TITLE_DATE } },
        { type: "text", x: 1069, y: 81, style: { ...titleStyle, text: TITLE_TIME } },
        {
          type: "text",
          x: 904,
          y: 1614,
          style: {
            text: X_NAME,
            fontSize: 36,
            fontWeight: "bold",
            fontFamily: FONT,
            fill: "#000",
            align: "center",
            verticalAlign: "middle",
          },
        },
      ],
    });

    return () => chart.dispose();
  }, []);

  return (
    <div
      ref={ref}
      style={{ position: "absolute", left: 0, top: 0, width: 2005, height: 1680 }}
    />
  );
}
